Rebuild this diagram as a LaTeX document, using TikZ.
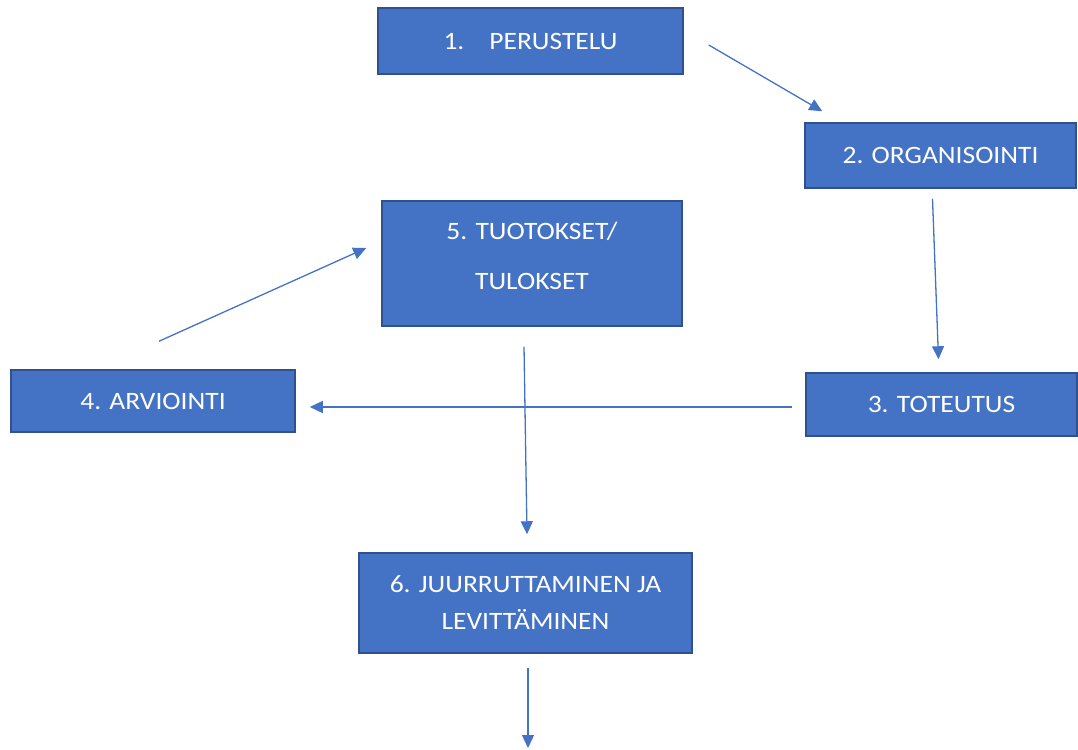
\documentclass[tikz,border=0pt]{standalone}
\usepackage{fontspec}
\setmainfont{Carlito}[FakeStretch=1.1]
\usetikzlibrary{arrows.meta, positioning}
\definecolor{BoxColor}{RGB}{68,114,196}
\definecolor{BoxBorder}{RGB}{47,82,143}
\definecolor{FlowColor}{RGB}{68,114,196}
\tikzset{
  phase/.style={rectangle, fill=BoxColor, draw=BoxBorder, line width=1.5pt, text=white, align=center, font=\fontsize{25}{37}\selectfont, inner sep=0pt},
  flow/.style={-{Triangle[length=13pt, width=12pt]}, line width=1.3pt, FlowColor}
}
\begin{document}
\begin{tikzpicture}[x=1pt, y=-1pt]
                \useasboundingbox (0,0) rectangle (1078,749);

                % Phases
                \node[phase, minimum width=305pt, minimum height=66pt] (perustelu) at (530.5,41) {1.\quad PERUSTELU};
                \node[phase, minimum width=271pt, minimum height=65pt] (organisointi) at (940.5,155.5) {2. ORGANISOINTI};
                \node[phase, minimum width=271pt, minimum height=63pt] (toteutus) at (941.5,404.5) {3. TOTEUTUS};
                \node[phase, minimum width=284pt, minimum height=62pt] (arviointi) at (153,401) {4. ARVIOINTI};
                \node[phase, minimum width=300pt, minimum height=125pt, text depth=16pt, font=\fontsize{25}{50}\selectfont] (tuotokset) at (532,263.5) {5. TUOTOKSET/\\TULOKSET};
                \node[phase, minimum width=333pt, minimum height=100pt] (juurruttaminen) at (525.5,603) {6. JUURRUTTAMINEN JA\\LEVITTÄMINEN};
                \coordinate (jatko) at (528,748);

                % Flow between phases
                \draw[flow] ([xshift=25pt, yshift=-4pt]perustelu.east) -- ([xshift=18pt, yshift=11pt]organisointi.north west);
                \draw[flow] ([xshift=-8pt, yshift=-10pt]organisointi.south) -- ([xshift=-3pt, yshift=13pt]toteutus.north);
                \draw[flow] ([xshift=-13pt, yshift=-2.5pt]toteutus.west) -- ([xshift=14pt, yshift=-6pt]arviointi.east);
                \draw[flow] ([xshift=6pt, yshift=28pt]arviointi.north) -- ([xshift=-15pt, yshift=15.5pt]tuotokset.west);
                \draw[flow] ([xshift=-8pt, yshift=-20pt]tuotokset.south) -- ([xshift=1.5pt, yshift=18pt]juurruttaminen.north);
                \draw[flow] ([xshift=2.5pt, yshift=-14pt]juurruttaminen.south) -- (jatko);
            \end{tikzpicture}
\end{document}
